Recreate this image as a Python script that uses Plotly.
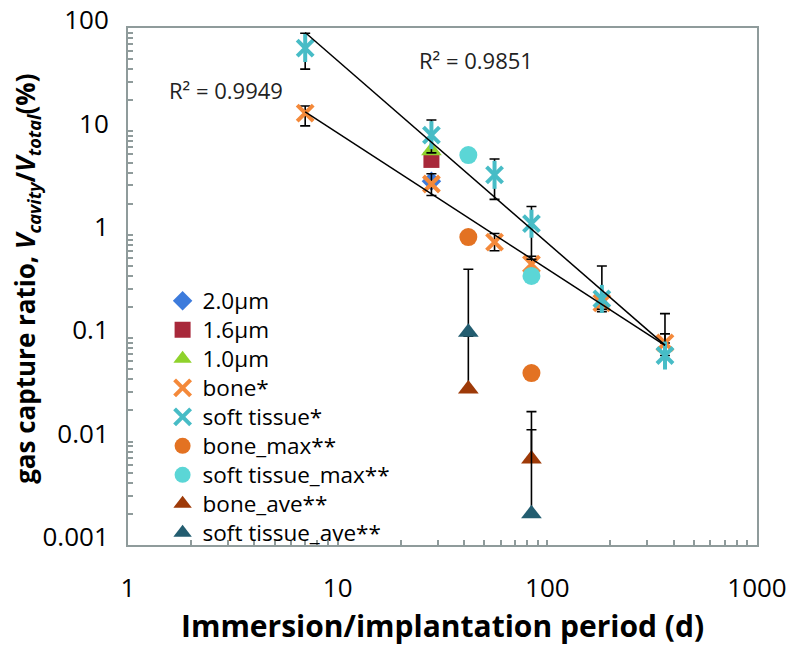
import numpy as np
import plotly.graph_objects as go

# ---------------- data ----------------
days_main = [7, 28, 56, 84, 182, 364]

bone_vals = [15.0, 3.1, 0.85, 0.52, 0.22, 0.09]
bone_plus = [2.6, 0.8, 0.18, 0.1, 0.04, 0.02]
bone_minus = [3.7, 0.7, 0.15, 0.05, 0.04, 0.0]

soft_vals = [64.0, 9.2, 3.8, 1.28, 0.24, 0.068]
soft_plus = [25.0, 3.7, 1.6, 0.6, 0.26, 0.105]
soft_minus = [24.0, 3.0, 1.6, 0.7, 0.05, 0.0]

days_28 = [28]
um20_vals = [3.3]
um16_vals = [5.3]
um10_vals = [6.5]

days_max = [42, 84]
bone_max_vals = [0.95, 0.046]
soft_max_vals = [5.9, 0.40]

bone_ave_vals = [0.0323, 0.0068]
bone_ave_plus = [0.072, 0.0062]
soft_ave_vals = [0.114, 0.0020]
soft_ave_plus = [0.35, 0.0175]

legend_names = ["2.0μm", "1.6μm", "1.0μm", "bone*", "soft tissue*",
                "bone_max**", "soft tissue_max**", "bone_ave**", "soft tissue_ave**"]
r2_texts = ["R² = 0.9949", "R² = 0.9851"]

y_tickvals = [0.001, 0.01, 0.1, 1, 10, 100]
y_ticktext = ["0.001", "0.01", "0.1", "1", "10", "100"]
x_tickvals = [1, 10, 100, 1000]
x_ticktext = ["1", "10", "100", "1000"]

x_title = "<b>Immersion/implantation period (d)</b>"
y_title = "<b>gas capture ratio, <i>V<sub>cavity</sub></i>/<i>V<sub>total</sub></i>(%)</b>"

# ---------------- figure ----------------
FONT = "Open Sans"
AXC = "#8f9b9b"
fig = go.Figure()


def nm(i):
    return '<span style="font-size:22.5px">' + legend_names[i] + "</span>"


def eb(plus, minus=None):
    d = dict(type="data", array=plus, color="black", thickness=1.6, width=5, visible=True)
    if minus is None:
        d.update(symmetric=False, arrayminus=[0] * len(plus))
    else:
        d.update(symmetric=False, arrayminus=minus)
    return d


fig.add_trace(go.Scatter(x=days_28, y=um20_vals, mode="markers", name=nm(0),
                         marker=dict(symbol="diamond", size=15, color="#3d7bdc")))
fig.add_trace(go.Scatter(x=days_28, y=um16_vals, mode="markers", name=nm(1),
                         marker=dict(symbol="square", size=16, color="#a8283a")))
fig.add_trace(go.Scatter(x=days_28, y=um10_vals, mode="markers", name=nm(2),
                         marker=dict(symbol="triangle-up", size=18, color="#8fd22c")))
fig.add_trace(go.Scatter(x=days_main, y=bone_vals, mode="markers", name=nm(3),
                         error_y=eb(bone_plus, bone_minus),
                         marker=dict(symbol="x-thin-open", size=16, color="#f4893a",
                                     line=dict(width=4, color="#f4893a"))))
# soft tissue asterisk = X + vertical stroke
fig.add_trace(go.Scatter(x=days_main, y=soft_vals, mode="markers", showlegend=False,
                         error_y=eb(soft_plus, soft_minus),
                         marker=dict(symbol="line-ns-open", size=20, color="#47bcc6",
                                     line=dict(width=4, color="#47bcc6"))))
fig.add_trace(go.Scatter(x=days_main, y=soft_vals, mode="markers", name=nm(4),
                         marker=dict(symbol="x-thin-open", size=16, color="#47bcc6",
                                     line=dict(width=4, color="#47bcc6"))))
fig.add_trace(go.Scatter(x=days_max, y=bone_max_vals, mode="markers", name=nm(5),
                         marker=dict(symbol="circle", size=18, color="#e37222")))
fig.add_trace(go.Scatter(x=days_max, y=soft_max_vals, mode="markers", name=nm(6),
                         marker=dict(symbol="circle", size=18, color="#5bd6d6")))
fig.add_trace(go.Scatter(x=days_max, y=bone_ave_vals, mode="markers", name=nm(7),
                         error_y=eb(bone_ave_plus),
                         marker=dict(symbol="triangle-up", size=18, color="#9e3a08")))
fig.add_trace(go.Scatter(x=days_max, y=soft_ave_vals, mode="markers", name=nm(8),
                         error_y=eb(soft_ave_plus),
                         marker=dict(symbol="triangle-up", size=18, color="#235d70")))

# power-law trendlines fitted in log-log space
for vals in (bone_vals, soft_vals):
    lx = np.log10(days_main)
    ly = np.log10(vals)
    slope, icpt = np.polyfit(lx, ly, 1)
    xs = np.array([min(days_main), max(days_main)], dtype=float)
    ys = 10 ** (icpt + slope * np.log10(xs))
    fig.add_trace(go.Scatter(x=xs, y=ys, mode="lines", showlegend=False,
                             line=dict(color="black", width=1.5), hoverinfo="skip"))

fig.add_annotation(x=np.log10(2.94), y=np.log10(25), xref="x", yref="y", text=r2_texts[0],
                   showarrow=False, font=dict(family=FONT, size=22, color="#222"))
fig.add_annotation(x=np.log10(45.7), y=np.log10(49), xref="x", yref="y", text=r2_texts[1],
                   showarrow=False, font=dict(family=FONT, size=22, color="#222"))

# axis titles
fig.add_annotation(x=0.5, y=-0.156, xref="paper", yref="paper", text=x_title,
                   showarrow=False, xanchor="center", yanchor="middle",
                   font=dict(family=FONT, size=30, color="black"))
fig.add_annotation(x=-0.162, y=0.515, xref="paper", yref="paper", text=y_title,
                   showarrow=False, xanchor="center", yanchor="middle", textangle=-90,
                   font=dict(family=FONT, size=26, color="black"))

fig.update_layout(
    width=790, height=653,
    margin=dict(l=128, r=33, t=28, b=108),
    paper_bgcolor="white", plot_bgcolor="white",
    font=dict(family=FONT, color="black"),
    showlegend=True,
    legend=dict(x=0.055, y=0.51, xanchor="left", yanchor="top",
                font=dict(family=FONT, size=20, color="black"),
                bgcolor="rgba(0,0,0,0)", tracegroupgap=0, itemwidth=30),
)

fig.update_xaxes(type="log", range=[0, 3], showgrid=False, zeroline=False, automargin=False,
                 showline=True, linecolor=AXC, linewidth=2, mirror=True,
                 ticks="inside", ticklen=5, tickcolor=AXC, tickwidth=1.5,
                 tickmode="array", tickvals=x_tickvals, ticktext=x_ticktext,
                 tickfont=dict(family=FONT, size=26, color="black"),
                 ticklabelstandoff=19, ticklabeloverflow="allow",
                 minor=dict(ticks="inside", ticklen=5, tickcolor=AXC, tickwidth=1.5, dtick="D1", showgrid=False))
fig.update_yaxes(type="log", range=[-3, 2], showgrid=False, zeroline=False, automargin=False,
                 showline=True, linecolor=AXC, linewidth=2, mirror=True,
                 ticks="inside", ticklen=5, tickcolor=AXC, tickwidth=1.5,
                 tickmode="array", tickvals=y_tickvals, ticktext=y_ticktext,
                 tickfont=dict(family=FONT, size=26, color="black"),
                 ticklabelstandoff=12, ticklabelshift=-8, ticklabeloverflow="allow",
                 minor=dict(ticks="inside", ticklen=5, tickcolor=AXC, tickwidth=1.5, dtick="D1", showgrid=False))

fig.write_html("out.html", config={"displayModeBar": False},
               post_script="document.body.style.margin='0px';document.body.style.overflow='hidden';")
